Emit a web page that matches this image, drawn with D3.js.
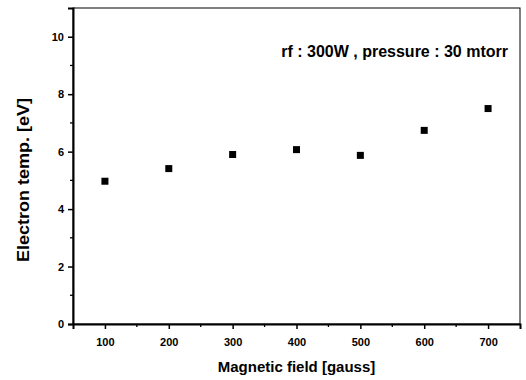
<!DOCTYPE html>
<html>
<head>
<meta charset="utf-8">
<script src="https://cdn.jsdelivr.net/npm/d3@7"></script>
<style>
  body { margin: 0; background: #fff; }
  text { font-family: "Liberation Sans Narrow", "Arial Narrow", "Liberation Sans", sans-serif; font-weight: bold; fill: #000; }
</style>
</head>
<body>
<div id="chart"></div>
<script>
// data
var fields = [100, 200, 300, 400, 500, 600, 700];
var temps = [4.97, 5.41, 5.9, 6.07, 5.87, 6.74, 7.5];
var xTicks = [100, 200, 300, 400, 500, 600, 700];
var yTicks = [0, 2, 4, 6, 8, 10];

var margin = { top: 8, right: 6, bottom: 56, left: 73 },
    width = 526 - margin.left - margin.right,
    height = 380 - margin.top - margin.bottom;

var svg = d3.select("#chart")
    .append("svg")
    .attr("width", 526)
    .attr("height", 380)
    .append("g")
    .attr("transform", "translate(" + margin.left + "," + margin.top + ")");

var x = d3.scaleLinear().domain([50, 750]).range([0, width]);
var y = d3.scaleLinear().domain([0, 11]).range([height, 0]);

// frame
svg.append("rect")
    .attr("x", 0).attr("y", 0)
    .attr("width", width).attr("height", height)
    .attr("fill", "none")
    .style("stroke", "#000")
    .style("stroke-width", "1px");

// minor ticks
var xMinor = d3.range(150, 750, 100);
var yMinor = d3.range(1, 11, 2);
svg.append("g").selectAll("line").data(xMinor).enter().append("line")
    .attr("x1", function (d) { return x(d); }).attr("x2", function (d) { return x(d); })
    .attr("y1", height).attr("y2", height + 3)
    .style("stroke", "#000").style("stroke-width", "1.3px");
svg.append("g").selectAll("line").data(yMinor).enter().append("line")
    .attr("x1", -3).attr("x2", 0)
    .attr("y1", function (d) { return y(d); }).attr("y2", function (d) { return y(d); })
    .style("stroke", "#000").style("stroke-width", "1.3px");

// axes
var xAxis = svg.append("g")
    .attr("transform", "translate(0," + height + ")")
    .call(d3.axisBottom(x).tickValues(xTicks).tickSize(5).tickPadding(9));
var yAxis = svg.append("g")
    .call(d3.axisLeft(y).tickValues(yTicks).tickSize(5).tickPadding(4));

[xAxis, yAxis].forEach(function (a) {
    a.select(".domain").style("stroke-width", "2px");
    a.selectAll(".tick line").style("stroke-width", "1.5px");
    a.selectAll(".tick text")
        .style("font-size", "11px")
        .style("font-family", "\"Liberation Sans Narrow\", \"Liberation Sans\", sans-serif");
});

// points
svg.append("g").selectAll("rect")
    .data(fields)
    .enter().append("rect")
    .attr("x", function (d) { return x(d) - 3.5; })
    .attr("y", function (d, i) { return y(temps[i]) - 3.5; })
    .attr("width", 7)
    .attr("height", 7)
    .attr("fill", "#000");

// annotation
svg.append("text")
    .attr("x", 435)
    .attr("y", 49)
    .style("text-anchor", "end")
    .style("font-size", "16px")
    .text("rf : 300W ,  pressure : 30 mtorr");

// axis titles
svg.append("text")
    .attr("x", width / 2)
    .attr("y", height + 48)
    .style("text-anchor", "middle")
    .style("font-size", "15px")
    .text("Magnetic field [gauss]");

svg.append("text")
    .attr("transform", "translate(-44," + (172) + ") rotate(-90)")
    .style("text-anchor", "middle")
    .style("font-size", "17px")
    .attr("textLength", 164)
    .attr("lengthAdjust", "spacingAndGlyphs")
    .text("Electron temp. [eV]");
</script>
</body>
</html>
